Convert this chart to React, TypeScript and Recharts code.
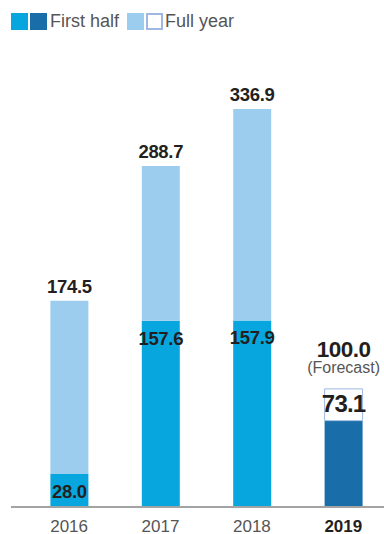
import React from 'react';
import { BarChart, Bar, XAxis, YAxis, Cell, LabelList } from 'recharts';

const years = ['2016', '2017', '2018', '2019'];
const firstHalf = [28.0, 157.6, 157.9, 73.1];
const fullYear = [174.5, 288.7, 336.9, 100.0];
const isForecast = [false, false, false, true];

const data = years.map((year, i) => ({
  year,
  firstHalf: firstHalf[i],
  fullYear: fullYear[i],
  rest: fullYear[i] - firstHalf[i],
}));

const FONT = '"Liberation Sans", Arial, Helvetica, sans-serif';
const CYAN = '#08a6df';
const DARK = '#196ea9';
const LIGHT = '#9ccdef';
const OUTLINE = '#9db8e2';
const TEXT = '#231f20';
const GREY = '#555555';

const FirstHalfLabel = (props: any) => {
  const { x, y, width, value, index } = props;
  const cx = x + width / 2;
  if (isForecast[index]) {
    return (
      <text x={cx} y={y - 9} textAnchor="middle" fontFamily={FONT} fontWeight={700} fontSize={24} fill={TEXT} letterSpacing={-0.8}>
        {Number(value).toFixed(1)}
      </text>
    );
  }
  return (
    <text x={cx} y={y + 24} textAnchor="middle" fontFamily={FONT} fontWeight={700} fontSize={18.5} fill={TEXT} letterSpacing={-0.3}>
      {Number(value).toFixed(1)}
    </text>
  );
};

const FullYearLabel = (props: any) => {
  const { x, y, width, value, index } = props;
  const cx = x + width / 2;
  if (isForecast[index]) {
    return (
      <g>
        <text x={cx} y={y - 32} textAnchor="middle" fontFamily={FONT} fontWeight={700} fontSize={22.5} fill={TEXT} letterSpacing={-0.5}>
          {Number(value).toFixed(1)}
        </text>
        <text x={cx} y={y - 16} textAnchor="middle" fontFamily={FONT} fontSize={16} fill={GREY}>
          (Forecast)
        </text>
      </g>
    );
  }
  return (
    <text x={cx} y={y - 8} textAnchor="middle" fontFamily={FONT} fontWeight={700} fontSize={18.5} fill={TEXT} letterSpacing={-0.3}>
      {Number(value).toFixed(1)}
    </text>
  );
};

const YearTick = (props: any) => {
  const { x, y, payload, index } = props;
  const bold = isForecast[index];
  return (
    <text x={x} y={y} dy={17} textAnchor="middle" fontFamily={FONT} fontSize={17} fontWeight={bold ? 700 : 400} fill={bold ? TEXT : GREY}>
      {payload.value}
    </text>
  );
};

const Swatch = ({ color, outline }: { color: string; outline?: boolean }) => (
  <span
    style={{
      display: 'inline-block',
      width: outline ? 13 : 17,
      height: outline ? 13 : 17,
      background: color,
      border: outline ? `2px solid ${OUTLINE}` : 'none',
      marginRight: 2,
      verticalAlign: 'top',
    }}
  />
);

const ChartLegend = () => (
  <div
    style={{
      position: 'absolute',
      top: 12,
      left: 11,
      fontFamily: FONT,
      fontSize: 18,
      color: GREY,
      display: 'flex',
      alignItems: 'center',
      lineHeight: '18px',
    }}
  >
    <Swatch color={CYAN} />
    <Swatch color={DARK} />
    <span style={{ marginLeft: 1, marginRight: 8 }}>First half</span>
    <Swatch color={LIGHT} />
    <Swatch color="#fff" outline />
    <span>Full year</span>
  </div>
);

export default function App() {
  return (
    <div style={{ position: 'relative', width: 384, height: 534, overflow: 'hidden', background: '#fff' }}>
      <style>{'html, body { margin: 0; padding: 0; overflow: hidden; }'}</style>
      <ChartLegend />
      <BarChart width={389} height={534} data={data} margin={{ top: 109, right: 0, bottom: 0, left: 11 }}>
        <YAxis hide domain={[0, 336.9]} />
        <XAxis
          dataKey="year"
          height={27}
          padding={{ left: 12.4, right: 0 }}
          axisLine={{ stroke: '#a3a3a3', strokeWidth: 2 }}
          tickLine={false}
          tick={<YearTick />}
          interval={0}
        />
        <Bar dataKey="firstHalf" stackId="a" barSize={38} isAnimationActive={false}>
          {data.map((d, i) => (
            <Cell key={`fh-${d.year}`} fill={isForecast[i] ? DARK : CYAN} />
          ))}
          <LabelList dataKey="firstHalf" content={<FirstHalfLabel />} />
        </Bar>
        <Bar dataKey="rest" stackId="a" barSize={38} isAnimationActive={false}>
          {data.map((d, i) => (
            <Cell
              key={`fy-${d.year}`}
              fill={isForecast[i] ? '#ffffff' : LIGHT}
              stroke={isForecast[i] ? OUTLINE : 'none'}
              strokeWidth={isForecast[i] ? 1 : 0}
            />
          ))}
          <LabelList dataKey="fullYear" content={<FullYearLabel />} />
        </Bar>
      </BarChart>
    </div>
  );
}
